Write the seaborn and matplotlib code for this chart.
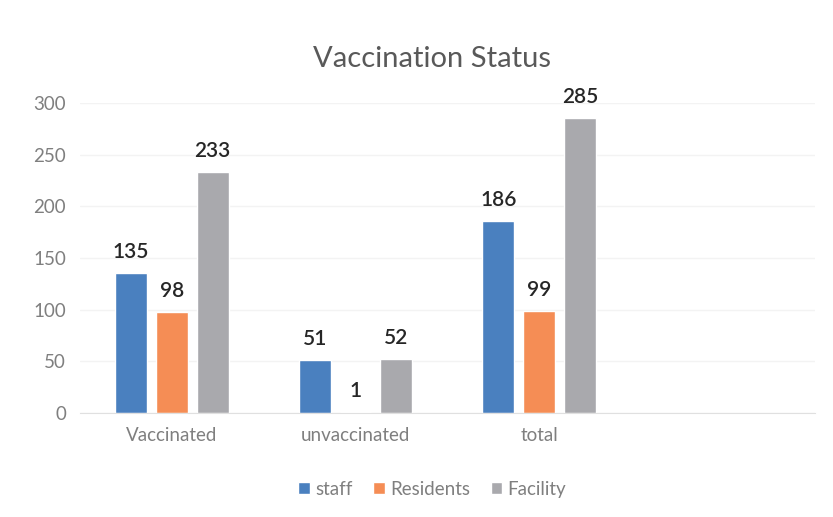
import seaborn as sns
import matplotlib.pyplot as plt
import pandas as pd

categories = ['Vaccinated', 'unvaccinated', 'total']
groups = ['staff', 'Residents', 'Facility']
staff = [135, 51, 186]
residents = [98, 1, 99]
facility = [233, 52, 285]

colors = ['#4a80bf', '#f58d55', '#a9a9ad']

df = pd.DataFrame({
    'status': categories * 3,
    'group': ['staff'] * 3 + ['Residents'] * 3 + ['Facility'] * 3,
    'count': staff + residents + facility,
})

sns.set_style('white')
plt.rcParams['font.family'] = ['Lato', 'DejaVu Sans']

fig = plt.figure(figsize=(8.33, 5.17), dpi=100)
ax = fig.add_axes([0.096, 0.201, 0.882, 0.600])
sns.barplot(x='status', y='count', hue='group', data=df, order=categories,
            hue_order=groups, palette=colors, width=0.667, gap=0.22,
            saturation=1, ax=ax, legend=True)

for cont in ax.containers:
    ax.bar_label(cont, padding=8, fontsize=15, color='#262626', fontweight='semibold')

ax.set_xlim(-0.5, 3.5)
ax.set_ylim(0, 300)
ax.set_yticks(range(0, 301, 50))
ax.yaxis.grid(True, color='#f3f3f3', linewidth=1)
ax.set_axisbelow(True)
for s in ['top', 'right', 'left']:
    ax.spines[s].set_visible(False)
ax.spines['bottom'].set_color('#e0e0e0')
ax.tick_params(axis='both', length=0, labelsize=13.5, labelcolor='#7f7f7f', pad=10)
ax.set_xlabel('')
ax.set_ylabel('')
fig.text(0.519, 0.885, 'Vaccination Status', fontsize=21, color='#595959',
         ha='center', va='center')

handles, labels = ax.get_legend_handles_labels()
ax.get_legend().remove()
fig.legend(handles, labels, loc='lower center', bbox_to_anchor=(0.519, 0.005), ncol=3,
           frameon=False, fontsize=13.5, labelcolor='#7f7f7f', handlelength=0.6,
           handleheight=0.6, handletextpad=0.3, columnspacing=1.1)

fig.savefig('out.png', dpi=100)
